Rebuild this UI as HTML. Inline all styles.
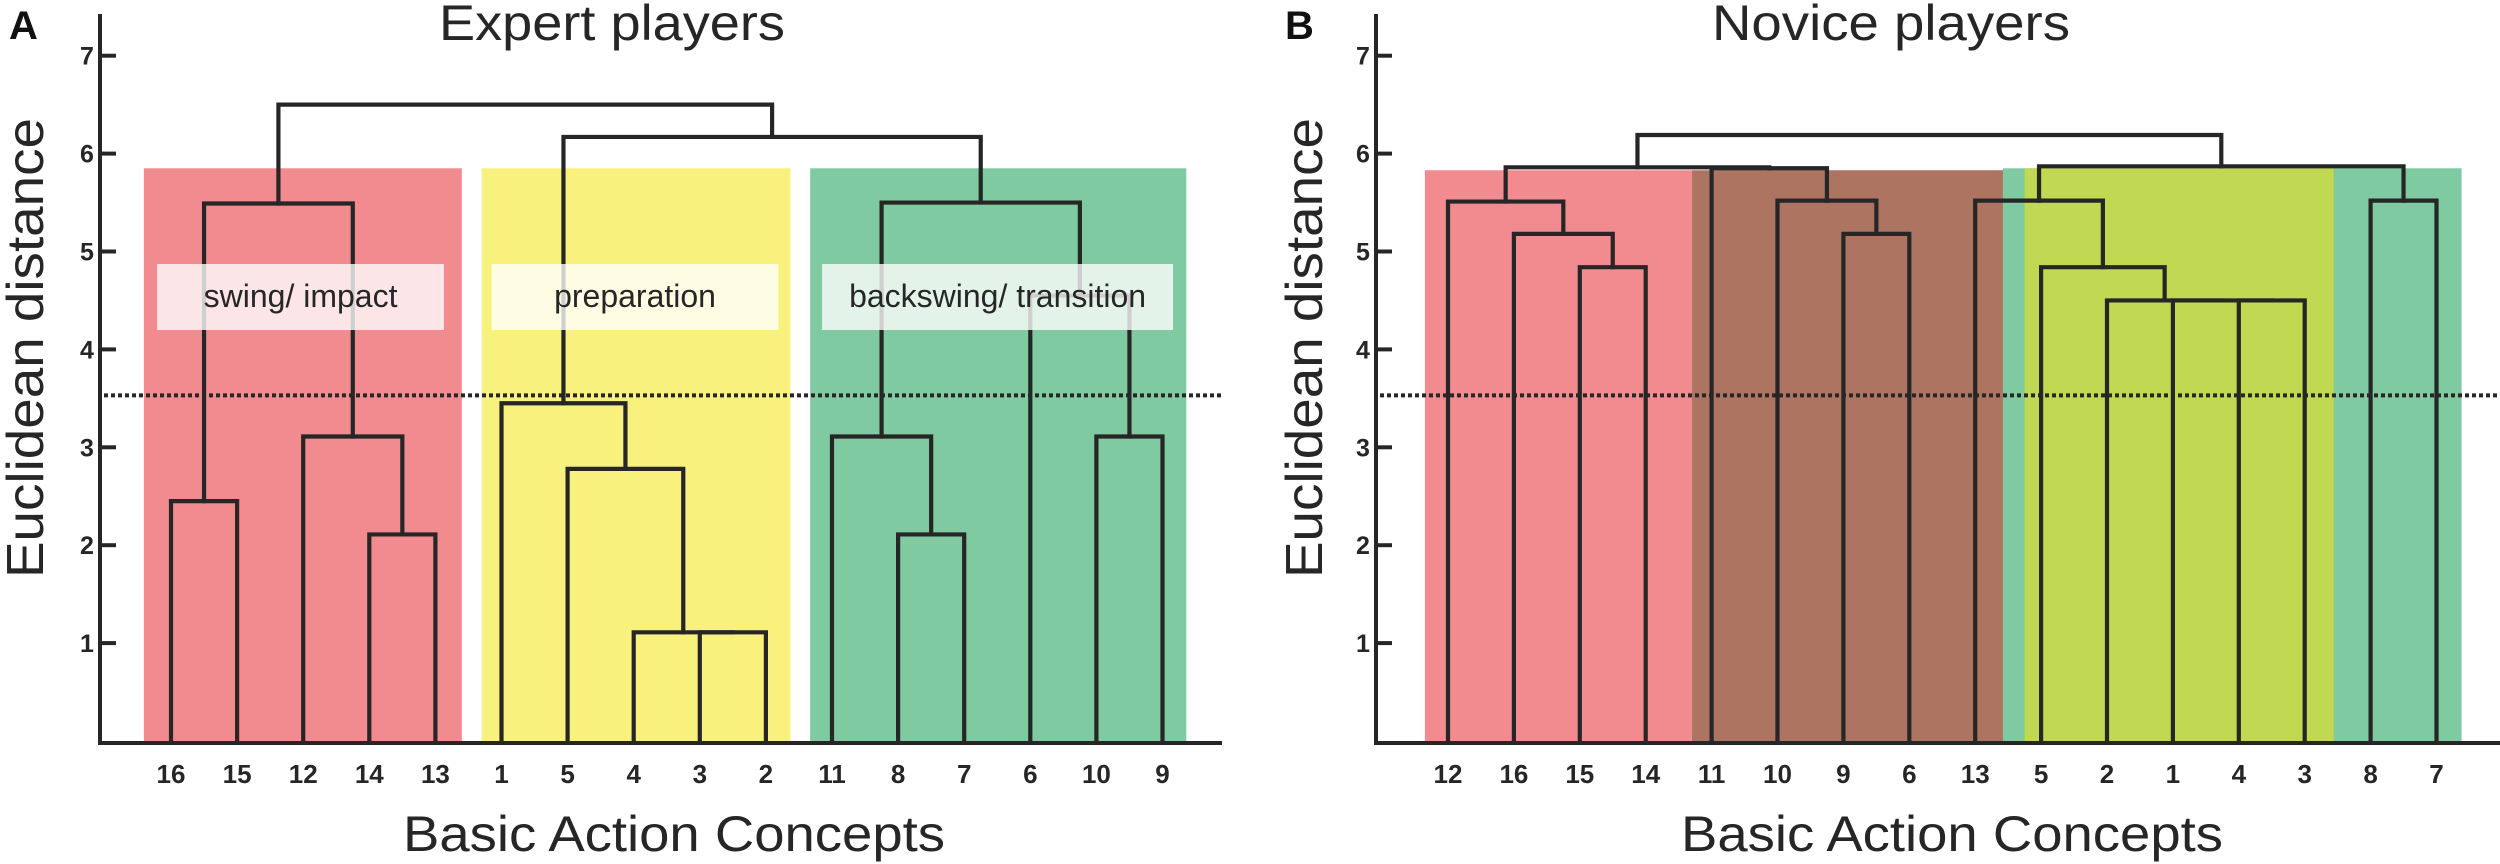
<!DOCTYPE html>
<html><head><meta charset="utf-8"><style>
html,body{margin:0;padding:0;background:#fff;}
svg{display:block;font-family:"Liberation Sans",Arial,sans-serif;}
</style></head><body>
<svg id="chart" width="2500" height="864" viewBox="0 0 2500 864" xmlns="http://www.w3.org/2000/svg">
<g id="panelA"></g>
<g id="panelB"></g>
</svg>
<script>
// ---- data ----
const yTicks = [1,2,3,4,5,6,7];
const cutHeight = 3.53;
const leavesA = [16,15,12,14,13,1,5,4,3,2,11,8,7,6,10,9];
const mergeLeftA  = ['16','14','12','m0','3','4','5','1','8','11','10','6','m9','m7','m3'];
const mergeRightA = ['15','13','m1','m2','2','m4','m5','m6','7','m8','9','m10','m11','m12','m13'];
const mergeHeightA = [2.45,2.11,3.11,5.49,1.11,1.11,2.78,3.45,2.11,3.11,3.11,4.55,5.5,6.17,6.5];
const bandNamesA = ['swing-impact','preparation','backswing-transition'];
const bandColorsA = ['#f28b8f','#f8f17e','#7fcaa0'];
const bandFromA = [-0.41,4.7,9.67];
const bandToA = [4.4,9.37,15.36];
const bandTopA = [5.85,5.85,5.85];
const labelTextA = ['swing/ impact','preparation','backswing/ transition'];
const labelFromA = [-0.21,4.85,9.85];
const labelToA = [4.13,9.19,15.16];

const leavesB = [12,16,15,14,11,10,9,6,13,5,2,1,4,3,8,7];
const mergeLeftB  = ['15','16','12','9','10','11','m2','4','1','2','5','13','8','m11','m6'];
const mergeRightB = ['14','m0','m1','6','m3','m4','m5','3','m7','m8','m9','m10','7','m12','m13'];
const mergeHeightB = [4.84,5.18,5.51,5.18,5.52,5.85,5.86,4.5,4.5,4.5,4.84,5.52,5.52,5.87,6.19];
const bandNamesB = ['red-cluster','brown-cluster','green-cluster','lime-cluster'];
const bandColorsB = ['#f28b8f','#ad7462','#7fcaa0','#c0d852'];
const bandFromB = [-0.35,3.7,8.42,8.75];
const bandToB = [3.7,8.43,15.38,13.44];
const bandTopB = [5.83,5.83,5.85,5.85];

// ---- layout ----
const NS='http://www.w3.org/2000/svg';
const Y0=741, YU=97.9;
function yScale(v){return Y0-v*YU;}
function mk(parent,tag,attrs){const e=document.createElementNS(NS,tag);for(const k in attrs)e.setAttribute(k,attrs[k]);parent.appendChild(e);return e;}

function drawPanel(g,cfg){
  const xScale=i=>cfg.leaf0+i*cfg.step;
  // bands
  cfg.bandFrom.forEach((f,i)=>{
    const r=mk(g,'rect',{x:xScale(f),y:yScale(cfg.bandTop[i]),width:xScale(cfg.bandTo[i])-xScale(f),height:Y0-yScale(cfg.bandTop[i]),fill:cfg.bandColors[i]});
    
    
  });
  // dendrogram
  const pos={},ht={};
  cfg.leaves.forEach((l,i)=>{pos[String(l)]=xScale(i);ht[String(l)]=0;});
  const dg=mk(g,'g',{stroke:'#262626','stroke-width':4.2,fill:'none','stroke-linejoin':'miter','stroke-linecap':'square'});
  
  
  cfg.mergeLeft.forEach((a,i)=>{
    const b=cfg.mergeRight[i],h=cfg.mergeHeight[i];
    const xa=pos[a],xb=pos[b],yh=yScale(h);
    const p=mk(dg,'path',{d:`M${xa},${yScale(ht[a])}V${yh}H${xb}V${yScale(ht[b])}`});
    
    
    pos['m'+i]=(xa+xb)/2;ht['m'+i]=h;
  });
  // label boxes
  if(cfg.labelText){
    cfg.labelText.forEach((t,i)=>{
      const x1=xScale(cfg.labelFrom[i]),x2=xScale(cfg.labelTo[i]);
      const r=mk(g,'rect',{x:x1,y:264,width:x2-x1,height:66,fill:'rgba(255,255,255,0.78)'});
      
      
      const tx=mk(g,'text',{x:(x1+x2)/2,y:307,'text-anchor':'middle','font-size':32,fill:'#262626'});
      tx.textContent=t;
      
      
    });
  }
  // cut line
  const cl=mk(g,'line',{x1:cfg.axisX+4,x2:cfg.axisEnd,y1:yScale(cutHeight),y2:yScale(cutHeight),stroke:'#262626','stroke-width':4,'stroke-dasharray':'4 3'});
  
  
  // axes
  const ax=mk(g,'path',{d:`M${cfg.axisX},14V${Y0+2}H${cfg.axisEnd}`,stroke:'#262626','stroke-width':4,fill:'none'});
  
  
  yTicks.forEach(v=>{
    const t=mk(g,'line',{x1:cfg.axisX,x2:cfg.axisX+16,y1:yScale(v),y2:yScale(v),stroke:'#262626','stroke-width':4});
    
    
    const tl=mk(g,'text',{x:cfg.axisX-13,y:yScale(v)+9,'text-anchor':'middle','font-size':25,'font-weight':'bold',fill:'#262626'});
    tl.textContent=v;
    
    
  });
  cfg.leaves.forEach((l,i)=>{
    const t=mk(g,'text',{x:xScale(i),y:783,'text-anchor':'middle','font-size':26,'font-weight':'bold',fill:'#262626'});
    t.textContent=l;
    
    
  });
  // titles
  const ti=mk(g,'text',{x:cfg.titleX,y:40,'font-size':50,fill:'#262626',textLength:cfg.titleW,lengthAdjust:'spacingAndGlyphs'});
  ti.textContent=cfg.title;
  
  
  const xt=mk(g,'text',{x:cfg.xTitleX,y:851,'font-size':50,fill:'#262626',textLength:542,lengthAdjust:'spacingAndGlyphs'});
  xt.textContent='Basic Action Concepts';
  
  
  const yt=mk(g,'text',{x:0,y:0,'font-size':52,fill:'#262626',textLength:460,lengthAdjust:'spacingAndGlyphs',transform:`translate(${cfg.yTitleX},578) rotate(-90)`});
  yt.textContent='Euclidean distance';
  
  
  const pl=mk(g,'text',{x:cfg.letterX,y:39,'font-size':40,'font-weight':'bold',fill:'#111'});
  pl.textContent=cfg.letter;
  
  
}

drawPanel(document.getElementById('panelA'),{leaf0:171,step:66.1,axisX:100,axisEnd:1222,leaves:leavesA,
  mergeLeft:mergeLeftA,mergeRight:mergeRightA,mergeHeight:mergeHeightA,
  bandNames:bandNamesA,bandColors:bandColorsA,bandFrom:bandFromA,bandTo:bandToA,bandTop:bandTopA,
  labelText:labelTextA,labelFrom:labelFromA,labelTo:labelToA,
  title:'Expert players',titleX:439,titleW:346,xTitleX:403,yTitleX:43,letter:'A',letterX:9});
drawPanel(document.getElementById('panelB'),{leaf0:1448,step:65.9,axisX:1376,axisEnd:2500,leaves:leavesB,
  mergeLeft:mergeLeftB,mergeRight:mergeRightB,mergeHeight:mergeHeightB,
  bandNames:bandNamesB,bandColors:bandColorsB,bandFrom:bandFromB,bandTo:bandToB,bandTop:bandTopB,
  title:'Novice players',titleX:1712,titleW:358,xTitleX:1681,yTitleX:1322,letter:'B',letterX:1285});
</script>
</body></html>
